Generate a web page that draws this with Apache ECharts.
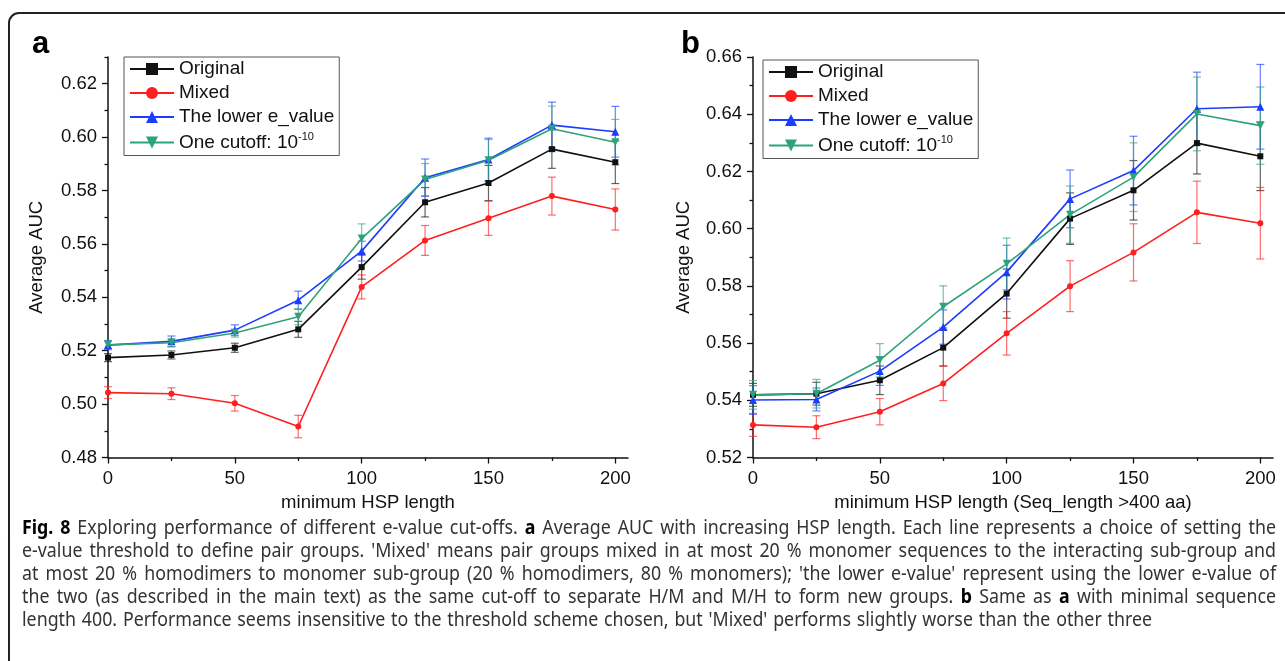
<!DOCTYPE html>
<html>
<head>
<meta charset="utf-8">
<script src="https://cdn.jsdelivr.net/npm/echarts@6/dist/echarts.min.js"></script>
<style>
  html, body { margin: 0; padding: 0; background: #fff; }
  #chart { width: 1285px; height: 661px; }
</style>
</head>
<body>
<div id="chart"></div>
<script>
// minimum HSP length
const hspLength = [0, 25, 50, 75, 100, 125, 150, 175, 200];
const seriesNames = ['Original', 'Mixed', 'The lower e_value', 'One cutoff'];

// panel a
const aOriginal = [0.5174, 0.5184, 0.5211, 0.5280, 0.5513, 0.5756, 0.5828, 0.5955, 0.5906];
const aOriginalErr = [0.0015, 0.0015, 0.0017, 0.0030, 0.0045, 0.0055, 0.0066, 0.0072, 0.0080];
const aMixed = [0.5043, 0.5039, 0.5003, 0.4916, 0.5439, 0.5613, 0.5696, 0.5779, 0.5729];
const aMixedErr = [0.0022, 0.0022, 0.0029, 0.0042, 0.0045, 0.0056, 0.0064, 0.0071, 0.0077];
const aLower = [0.5221, 0.5235, 0.5277, 0.5389, 0.5573, 0.5848, 0.5916, 0.6045, 0.6020];
const aLowerErr = [0.0017, 0.0020, 0.0020, 0.0034, 0.0037, 0.0070, 0.0080, 0.0086, 0.0095];
const aCutoff = [0.5222, 0.5230, 0.5266, 0.5327, 0.5620, 0.5841, 0.5913, 0.6031, 0.5981];
const aCutoffErr = [0.0015, 0.0015, 0.0015, 0.0030, 0.0055, 0.0060, 0.0078, 0.0085, 0.0085];

// panel b (Seq_length > 400 aa)
const bOriginal = [0.5419, 0.5423, 0.5470, 0.5584, 0.5773, 0.6035, 0.6134, 0.6299, 0.6253];
const bOriginalErr = [0.0040, 0.0040, 0.0050, 0.0064, 0.0086, 0.0090, 0.0104, 0.0108, 0.0120];
const bMixed = [0.5314, 0.5306, 0.5360, 0.5459, 0.5634, 0.5799, 0.5917, 0.6057, 0.6019];
const bMixedErr = [0.0040, 0.0040, 0.0046, 0.0060, 0.0076, 0.0089, 0.0100, 0.0109, 0.0125];
const bLower = [0.5401, 0.5403, 0.5502, 0.5656, 0.5848, 0.6104, 0.6203, 0.6419, 0.6426];
const bLowerErr = [0.0050, 0.0040, 0.0050, 0.0060, 0.0094, 0.0101, 0.0120, 0.0128, 0.0148];
const bCutoff = [0.5419, 0.5423, 0.5540, 0.5727, 0.5877, 0.6049, 0.6180, 0.6401, 0.6360];
const bCutoffErr = [0.0050, 0.0050, 0.0058, 0.0073, 0.0090, 0.0100, 0.0120, 0.0129, 0.0135];

// tick labels
const xTicks = [0, 50, 100, 150, 200];
const xMinorTicks = [25, 75, 125, 175];
const aYTicks = [0.48, 0.50, 0.52, 0.54, 0.56, 0.58, 0.60, 0.62];
const aYMinorTicks = [0.49, 0.51, 0.53, 0.55, 0.57, 0.59, 0.61, 0.63];
const bYTicks = [0.52, 0.54, 0.56, 0.58, 0.60, 0.62, 0.64, 0.66];
const bYMinorTicks = [0.53, 0.55, 0.57, 0.59, 0.61, 0.63, 0.65];

// caption, words starting with * are bold
const captionLines = [
  "*Fig. *8 Exploring performance of different e-value cut-offs. *a Average AUC with increasing HSP length. Each line represents a choice of setting the",
  "e-value threshold to define pair groups. 'Mixed' means pair groups mixed in at most 20 % monomer sequences to the interacting sub-group and",
  "at most 20 % homodimers to monomer sub-group (20 % homodimers, 80 % monomers); 'the lower e-value' represent using the lower e-value of",
  "the two (as described in the main text) as the same cut-off to separate H/M and M/H to form new groups. *b Same as *a with minimal sequence",
  "length 400. Performance seems insensitive to the threshold scheme chosen, but 'Mixed' performs slightly worse than the other three"
];

const colors = ['#111111', '#ff1f1f', '#1c3cff', '#2ea37a'];
const symbols = ['rect', 'circle', 'triangle', 'path://M0,0 L10,0 L5,9 Z'];
const symbolSizes = [6, 6, 8, 8];
const FONT = '"Liberation Sans", Arial, sans-serif';

const chart = echarts.init(document.getElementById('chart'));

function makeAxes(g, yMin, yMax, yTicks, yMinor, xName, yNameGap) {
  const axisLine = { lineStyle: { color: '#111', width: 1.5 } };
  const labelStyle = { fontSize: 18.5, color: '#111', fontFamily: FONT };
  const x = [{
    gridIndex: g, type: 'value', position: 'bottom', min: 0, max: 205,
    axisLine: axisLine,
    axisTick: { length: 6, customValues: xTicks, lineStyle: { color: '#111', width: 1.3 } },
    axisLabel: Object.assign({ customValues: xTicks, margin: 12 }, labelStyle),
    splitLine: { show: false },
    name: xName, nameLocation: 'middle', nameGap: 34,
    nameTextStyle: { fontSize: 18.5, color: '#111', fontFamily: FONT }
  }, {
    gridIndex: g, type: 'value', position: 'bottom', min: 0, max: 205,
    axisLine: { show: false },
    axisTick: { length: 3.5, customValues: xMinorTicks, lineStyle: { color: '#111', width: 1.3 } },
    axisLabel: { show: false }, splitLine: { show: false }
  }];
  const y = [{
    gridIndex: g, type: 'value', position: 'left', min: yMin, max: yMax,
    axisLine: Object.assign({ show: true }, axisLine),
    axisTick: { show: true, length: 6, customValues: yTicks, lineStyle: { color: '#111', width: 1.3 } },
    axisLabel: Object.assign({ customValues: yTicks, margin: 11, formatter: v => v.toFixed(2) }, labelStyle),
    splitLine: { show: false },
    name: 'Average AUC', nameLocation: 'middle', nameGap: yNameGap,
    nameTextStyle: { fontSize: 18.5, color: '#111', fontFamily: FONT }
  }, {
    gridIndex: g, type: 'value', position: 'left', min: yMin, max: yMax,
    axisLine: { show: false },
    axisTick: { show: true, length: 3.5, customValues: yMinor, lineStyle: { color: '#111', width: 1.3 } },
    axisLabel: { show: false }, splitLine: { show: false }
  }];
  return { x, y };
}

function errorSeries(axisIdx, values, errs, color) {
  return {
    type: 'custom', xAxisIndex: axisIdx, yAxisIndex: axisIdx, z: 1, silent: true,
    encode: { x: 0, y: [1, 2] },
    data: hspLength.map((h, i) => [h, values[i] - errs[i], values[i] + errs[i]]),
    renderItem: (params, api) => {
      const lo = api.coord([api.value(0), api.value(1)]);
      const hi = api.coord([api.value(0), api.value(2)]);
      const w = 4;
      const style = { stroke: color, lineWidth: 1.2, opacity: 0.65 };
      return {
        type: 'group', children: [
          { type: 'line', shape: { x1: lo[0], y1: lo[1], x2: hi[0], y2: hi[1] }, style },
          { type: 'line', shape: { x1: lo[0] - w, y1: lo[1], x2: lo[0] + w, y2: lo[1] }, style },
          { type: 'line', shape: { x1: hi[0] - w, y1: hi[1], x2: hi[0] + w, y2: hi[1] }, style }
        ]
      };
    }
  };
}

function lineSeries(axisIdx, k, values) {
  return {
    name: seriesNames[k], type: 'line', xAxisIndex: axisIdx, yAxisIndex: axisIdx, z: 3,
    data: hspLength.map((h, i) => [h, values[i]]),
    symbol: symbols[k], symbolSize: symbolSizes[k], showAllSymbol: true,
    itemStyle: { color: colors[k] },
    lineStyle: { color: colors[k], width: 1.6 }
  };
}

const axesA = makeAxes(0, 0.48, 0.63, aYTicks, aYMinorTicks, 'minimum HSP length', 62);
const axesB = makeAxes(1, 0.52, 0.66, bYTicks, bYMinorTicks, 'minimum HSP length (Seq_length >400 aa)', 60);

const panelA = [aOriginal, aMixed, aLower, aCutoff];
const panelAErr = [aOriginalErr, aMixedErr, aLowerErr, aCutoffErr];
const panelB = [bOriginal, bMixed, bLower, bCutoff];
const panelBErr = [bOriginalErr, bMixedErr, bLowerErr, bCutoffErr];

const series = [];
panelA.forEach((v, k) => series.push(errorSeries(0, v, panelAErr[k], colors[k])));
panelA.forEach((v, k) => series.push(lineSeries(0, k, v)));
// axis index 2 = main axis of grid 1 (0,1 are grid 0 main/minor)
panelB.forEach((v, k) => series.push(errorSeries(2, v, panelBErr[k], colors[k])));
panelB.forEach((v, k) => series.push(lineSeries(2, k, v)));

function legendAt(left, top) {
  return {
    data: seriesNames, left: left, top: top, orient: 'vertical',
    itemWidth: 44, itemHeight: 15, itemGap: 4,
    padding: [2, 5, 3, 5], borderColor: '#555', borderWidth: 1,
    selectedMode: false,
    formatter: n => n === 'One cutoff' ? 'One cutoff: 10{sup|-10}' : n,
    textStyle: {
      fontSize: 19, color: '#111', fontFamily: FONT, lineHeight: 20,
      rich: { sup: { fontSize: 11, fontFamily: FONT, color: '#111', padding: [0, 0, 12, 0] } }
    }
  };
}

// caption layout: justify each line (except the last) across the frame width
const capCtx = document.createElement('canvas').getContext('2d');
const CAP_SIZE = 19;
function capFont(bold) { return (bold ? 'bold ' : '') + CAP_SIZE + 'px "Noto Sans"'; }
function measure(t, bold) { capCtx.font = capFont(bold); return capCtx.measureText(t).width; }
const capLeft = 22, capRight = 1276, capTop = 529, capStep = 23;
const parsed = captionLines.map(l => l.split(' ').map(w => ({ t: w.replace(/^\*/, ''), b: w[0] === '*' })));
const spaceW = measure(' ', false);
const natural = parsed.map(ws => ws.reduce((s, w) => s + measure(w.t, w.b), 0) + spaceW * (ws.length - 1));
// glyphs a bit narrower than the font, spaces a bit wider
const squeeze = 0.96 * Math.min(1, ...natural.slice(0, -1).map(n => (capRight - capLeft) / n));
const capGraphics = [];
parsed.forEach((ws, i) => {
  const wordsW = ws.reduce((s, w) => s + measure(w.t, w.b), 0) * squeeze;
  const last = i === parsed.length - 1;
  const gap = last ? spaceW * squeeze * 1.25 : (capRight - capLeft - wordsW) / (ws.length - 1);
  let x = capLeft;
  ws.forEach(w => {
    capGraphics.push({
      type: 'text', x: x, y: capTop + i * capStep, scaleX: squeeze,
      style: { text: w.t, font: capFont(w.b), fill: w.b ? '#000' : '#333', verticalAlign: 'middle' }
    });
    x += measure(w.t, w.b) * squeeze + gap;
  });
});

chart.setOption({
  animation: false,
  backgroundColor: '#fff',
  grid: [
    { left: 108, right: 657, top: 57, bottom: 203.5 },
    { left: 753, right: 12, top: 57, bottom: 203.5 }
  ],
  xAxis: axesA.x.concat(axesB.x),
  yAxis: axesA.y.concat(axesB.y),
  legend: [legendAt(124, 57), legendAt(763, 60)],
  series: series,
  graphic: [
    { type: 'rect', shape: { x: 9, y: 13, width: 1300, height: 700, r: 10 },
      style: { fill: 'none', stroke: '#222', lineWidth: 2 }, z: 0 },
    { type: 'text', x: 32, y: 60, style: { text: 'a', font: 'bold 31px ' + FONT, fill: '#000', verticalAlign: 'bottom' } },
    { type: 'text', x: 681, y: 60, style: { text: 'b', font: 'bold 31px ' + FONT, fill: '#000', verticalAlign: 'bottom' } }
  ].concat(capGraphics)
});
</script>
</body>
</html>
